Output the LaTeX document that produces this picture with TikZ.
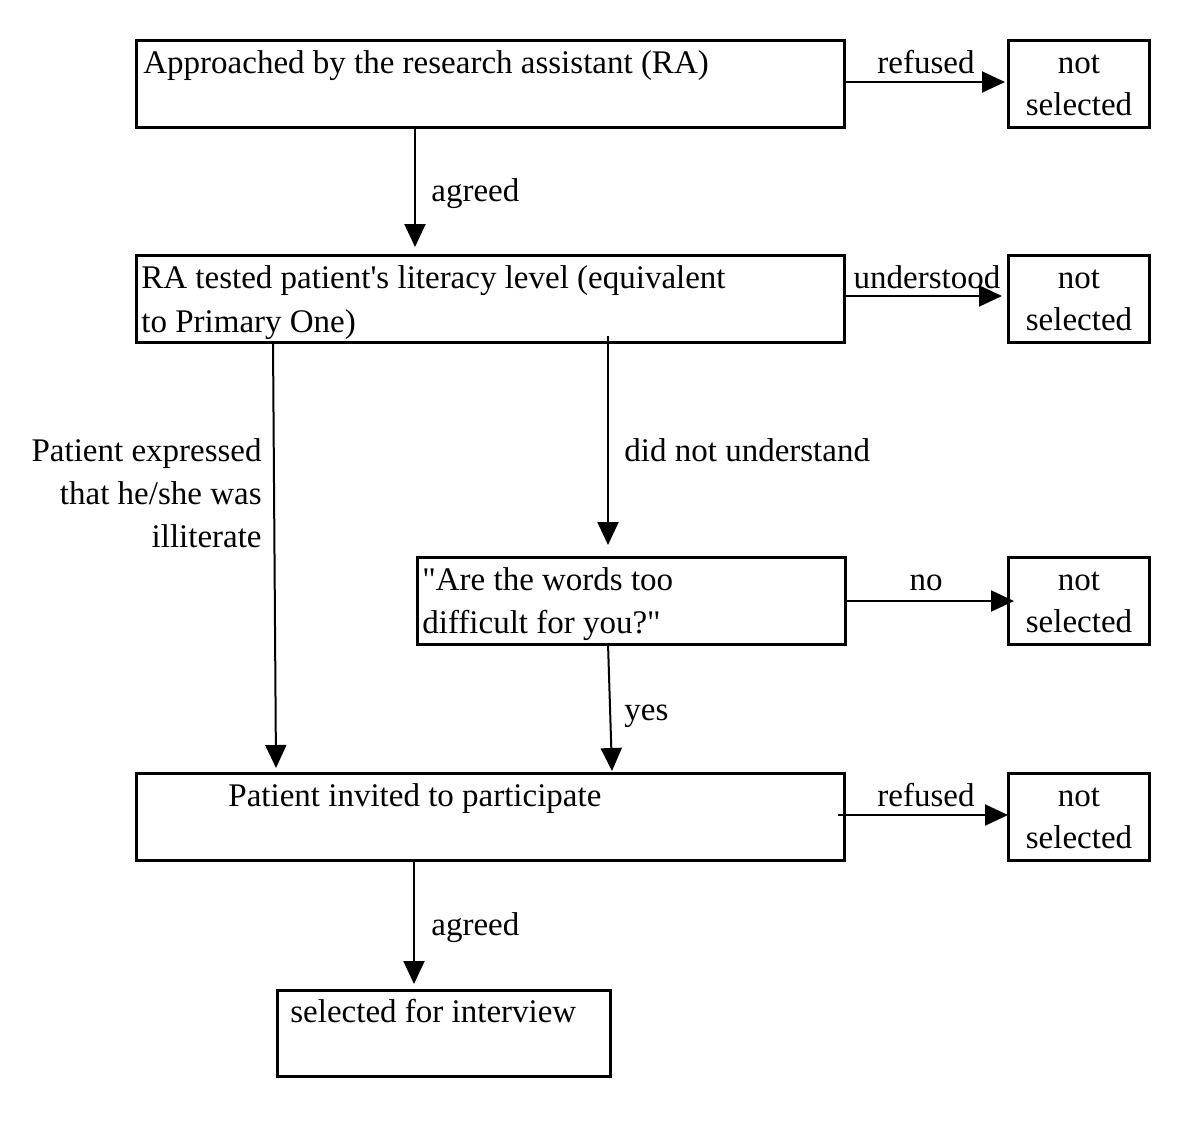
\documentclass[tikz,border=0pt]{standalone}
\usepackage{fontspec}
\setmainfont{Liberation Serif}
\usetikzlibrary{arrows.meta}
\begin{document}
\begin{tikzpicture}[x=0.5pt,y=-0.5pt,
  box/.style={draw,line width=1.5pt,inner sep=0pt,anchor=north west},
  txt/.style={inner sep=0pt,font=\fontsize{16.5pt}{21.5pt}\selectfont},
  arr/.style={line width=1pt,-{Triangle[length=11.5pt,width=10.5pt]}}]
\useasboundingbox (0,0) rectangle (1200,1136);
% boxes
\node[box,minimum width=354pt,minimum height=43.5pt] (A) at (135,39) {};
\node[box,minimum width=70.5pt,minimum height=43.5pt] (N1) at (1007,39) {};
\node[box,minimum width=354pt,minimum height=43.5pt] (B) at (135,254) {};
\node[box,minimum width=70.5pt,minimum height=43.5pt] (N2) at (1007,254) {};
\node[box,minimum width=214pt,minimum height=43.5pt] (C) at (416,556) {};
\node[box,minimum width=70.5pt,minimum height=43.5pt] (N3) at (1007,556) {};
\node[box,minimum width=354pt,minimum height=43.5pt] (D) at (135,772) {};
\node[box,minimum width=70.5pt,minimum height=43.5pt] (N4) at (1007,772) {};
\node[box,minimum width=166.5pt,minimum height=43pt] (E) at (276,989) {};
% box texts
\node[txt,anchor=base west] (tA) at (143,73) {Approached by the research assistant (RA)};
\node[txt,anchor=base west] (tB1) at (141,288) {RA tested patient\textquotesingle s literacy level (equivalent};
\node[txt,anchor=base west] (tB2) at (141,332) {to Primary One)};
\node[txt,anchor=base west] (tC1) at (422,590) {\textquotedbl Are the words too};
\node[txt,anchor=base west] (tC2) at (422,633) {difficult for you?\textquotedbl};
\node[txt,anchor=base west] (tD) at (228,806) {Patient invited to participate};
\node[txt,anchor=base west] (tE) at (290,1022) {selected for interview};
\foreach \n/\y in {1/73,2/288,3/590,4/806}{
  \node[txt,anchor=base] (ns\n a) at (1079,\y) {not};
  \node[txt,anchor=base] (ns\n b) at (1079,\y+42) {selected};
}
% connector labels
\node[txt,anchor=base] (lA) at (926,73) {refused};
\node[txt,anchor=base west] (lag1) at (431,201) {agreed};
\node[txt,anchor=base] (lB) at (927,288) {understood};
\node[txt,anchor=base west] (ldnu) at (624,461) {did not understand};
\node[txt,anchor=base east] (lp1) at (262,461) {Patient expressed};
\node[txt,anchor=base east] (lp2) at (262,504) {that he/she was};
\node[txt,anchor=base east] (lp3) at (262,547) {illiterate};
\node[txt,anchor=base] (lno) at (926,590) {no};
\node[txt,anchor=base west] (lyes) at (624,720) {yes};
\node[txt,anchor=base] (lD) at (926,806) {refused};
\node[txt,anchor=base west] (lag2) at (431,935) {agreed};
% connector end points
\coordinate (a1) at (415,126);  \coordinate (a1e) at (415,247);
\coordinate (a2) at (845,82);   \coordinate (a2e) at (1005,82);
\coordinate (b1) at (845,296);  \coordinate (b1e) at (1002,296);
\coordinate (b2) at (608,336);  \coordinate (b2e) at (608,545);
\coordinate (b3) at (273,341);  \coordinate (b3e) at (276,768);
\coordinate (c1) at (845,601);  \coordinate (c1e) at (1014,601);
\coordinate (c2) at (608,643);  \coordinate (c2e) at (612,771);
\coordinate (d1) at (838,815);  \coordinate (d1e) at (1008,815);
\coordinate (d2) at (414,859);  \coordinate (d2e) at (414,984);
% connectors
\foreach \s in {a1,a2,b1,b2,b3,c1,c2,d1,d2}{
  \draw[arr] (\s) -- (\s e);
}
\end{tikzpicture}
\end{document}
